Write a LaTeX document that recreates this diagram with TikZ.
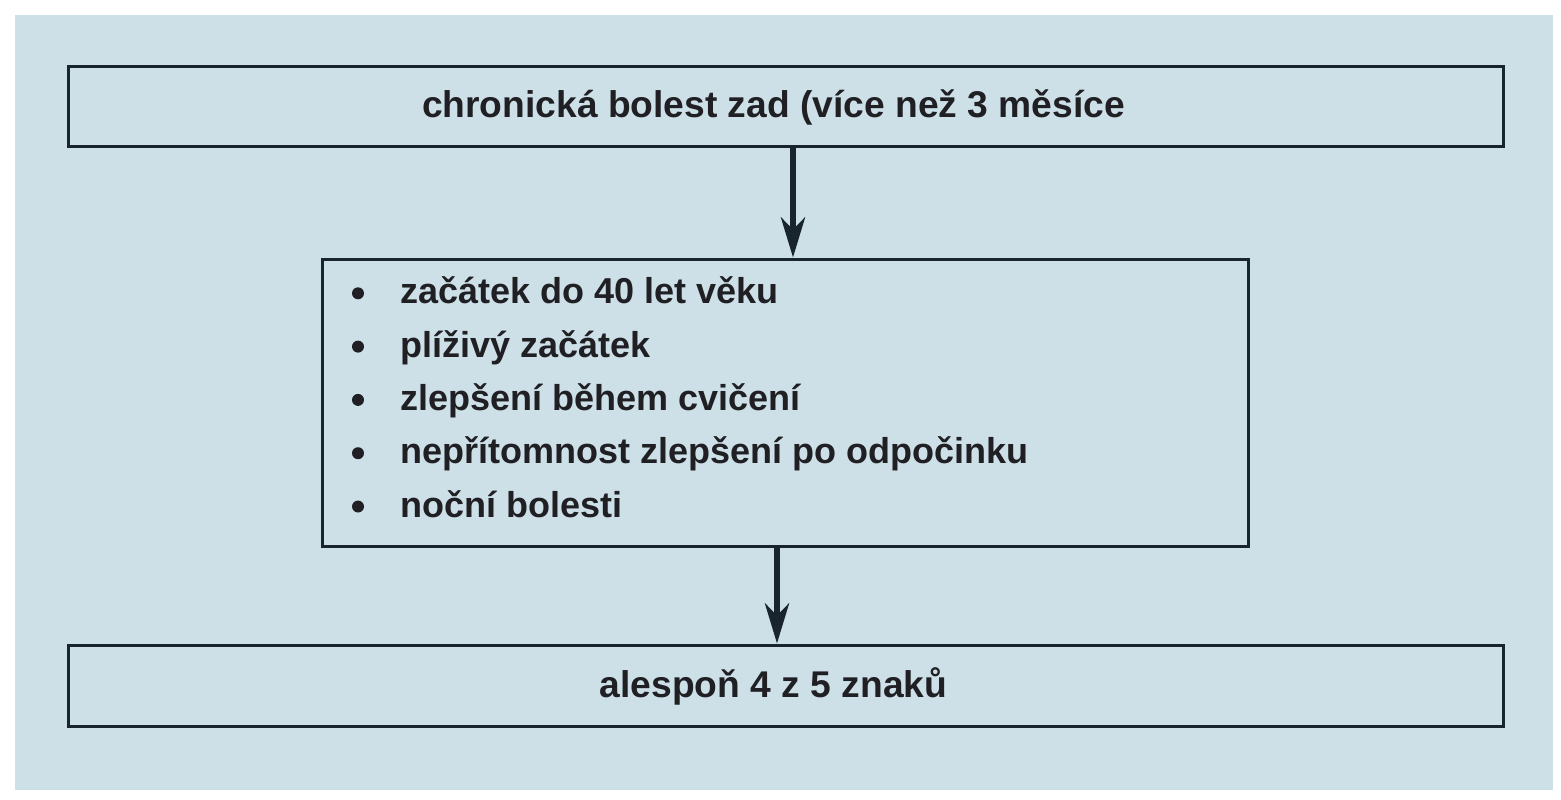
\documentclass[tikz,border=0pt]{standalone}
\usepackage{fontspec}
\setmainfont{Liberation Sans}
\usetikzlibrary{arrows.meta}
\definecolor{bgblue}{RGB}{205,224,232}
\definecolor{linecol}{RGB}{24,36,46}
\definecolor{txtcol}{RGB}{32,32,36}
\begin{document}
\begin{tikzpicture}[x=1pt,y=-1pt,
  box/.style={draw=linecol, line width=3pt, inner sep=0pt},
  txt/.style={text=txtcol, inner sep=0pt, font=\fontsize{36}{43}\selectfont\bfseries},
  bigtxt/.style={txt, font=\fontsize{37.2}{44}\selectfont\bfseries},
  arr/.style={draw=linecol, line width=6pt, -{Stealth[length=40pt,width=24pt,inset=12pt]}}]
\useasboundingbox (0,0) rectangle (1561,800);
\fill[bgblue] (15,15) rectangle (1553,790);
% boxes
\node[box, minimum width=1435pt, minimum height=79pt] (top) at (785.5,106.5) {};
\node[box, minimum width=926pt, minimum height=287pt] (mid) at (785,402.5) {};
\node[box, minimum width=1435pt, minimum height=81pt] (bot) at (785.5,685.5) {};
\node[bigtxt] (toptext) at ([xshift=-12pt,yshift=-1pt]top.center) {chronická bolest zad (více než 3 měsíce};
\node[bigtxt] (bottext) at ([xshift=-12pt,yshift=-1pt]bot.center) {alespoň 4 z 5 znaků};
% list of signs
\foreach \sign [count=\i] in {začátek do 40 let věku, plíživý začátek, zlepšení během cvičení,
    nepřítomnost zlepšení po odpočinku, noční bolesti} {
  \node[txt, anchor=base west] (sign\i) at (400,250.5+53.3*\i) {\sign};
  \fill[txtcol] (358,240+53.3*\i) circle (6pt);
}
% arrows
\coordinate (a1) at ([xshift=7.5pt]top.south);
\coordinate (a2) at ([xshift=-8pt]mid.south);
\draw[arr] (a1) -- (a1 |- mid.north);
\draw[arr] (a2) -- (a2 |- bot.north);
\end{tikzpicture}
\end{document}
